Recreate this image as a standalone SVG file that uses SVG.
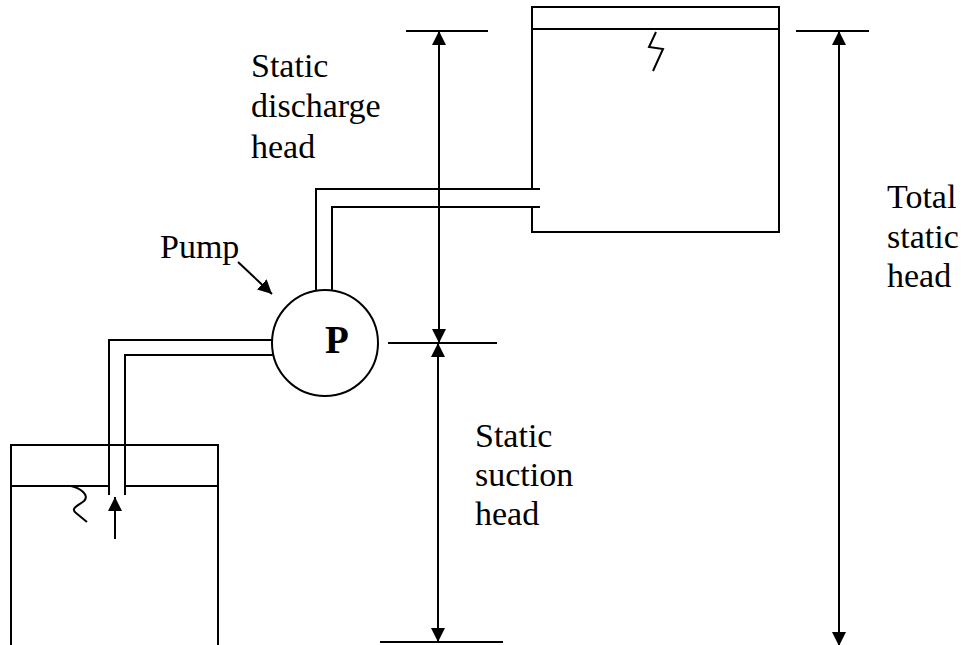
<svg xmlns="http://www.w3.org/2000/svg" width="964" height="645" viewBox="0 0 964 645">
<defs>
<style>
.ln{stroke:#000;stroke-width:2;fill:none;stroke-linecap:butt}
.t{font-family:'Liberation Serif','DejaVu Serif',serif;font-size:34px;font-weight:normal;font-style:normal;fill:#000}
.p{font-family:'Liberation Serif','DejaVu Serif',serif;font-size:39px;font-weight:bold;fill:#000}
</style>
<marker id="ah" viewBox="0 0 14 14" refX="14" refY="7" markerWidth="14" markerHeight="14" markerUnits="userSpaceOnUse" orient="auto">
<path d="M0,0 L14,7 L0,14 Z" fill="#000"/>
</marker>
</defs>
<rect width="964" height="645" fill="#fff"/>

<g id="upper-tank">
<path class="ln" d="M532,189 V7 H779 V232 H532 V207"/>
<line class="ln" x1="532" y1="29" x2="779" y2="29"/>
<path class="ln" d="M656,32 L649,47 Q656,48 663,49 L653,71"/>
</g>

<g id="lower-tank">
<path class="ln" d="M11,645 V445 H218 V645"/>
<line class="ln" x1="11" y1="486" x2="108" y2="486"/>
<line class="ln" x1="125" y1="486" x2="218" y2="486"/>
<path class="ln" d="M71,486 C80,488 90,495 84,501 C78,506 70,508 76,513 L87,522"/>
</g>

<g id="pump">
<circle class="ln" cx="325" cy="343" r="53"/>
<text class="p" x="325" y="353">P</text>
</g>

<g id="pipes">
<path class="ln" d="M316,291 V189 H540"/>
<path class="ln" d="M332,291 V207 H540"/>
<path class="ln" d="M272,340 H109 V495"/>
<path class="ln" d="M273,355 H125 V495"/>
</g>

<g id="labels">
<text class="t" x="251" y="77">Static</text>
<text class="t" x="251" y="117">discharge</text>
<text class="t" x="251" y="158">head</text>
<text class="t" x="475" y="447">Static</text>
<text class="t" x="475" y="486">suction</text>
<text class="t" x="475" y="525">head</text>
<text class="t" x="887" y="208">Total</text>
<text class="t" x="887" y="248">static</text>
<text class="t" x="887" y="287">head</text>
<text class="t" x="160" y="258">Pump</text>
</g>

<g id="connectors">
<line class="ln" x1="406" y1="31" x2="488" y2="31"/>
<line class="ln" x1="388" y1="343" x2="497" y2="343"/>
<line class="ln" x1="380" y1="642" x2="503" y2="642"/>
<line class="ln" x1="796" y1="31" x2="869" y2="31"/>
<line class="ln" x1="439" y1="187" x2="439" y2="31" marker-end="url(#ah)"/>
<line class="ln" x1="439" y1="187" x2="439" y2="343" marker-end="url(#ah)"/>
<line class="ln" x1="438" y1="492" x2="438" y2="343" marker-end="url(#ah)"/>
<line class="ln" x1="438" y1="492" x2="438" y2="642" marker-end="url(#ah)"/>
<line class="ln" x1="839" y1="340" x2="839" y2="31" marker-end="url(#ah)"/>
<line class="ln" x1="839" y1="340" x2="839" y2="646" marker-end="url(#ah)"/>
<line class="ln" x1="115" y1="539" x2="115" y2="497" marker-end="url(#ah)"/>
<line class="ln" x1="238" y1="262" x2="272" y2="294" marker-end="url(#ah)"/>
</g>
</svg>
